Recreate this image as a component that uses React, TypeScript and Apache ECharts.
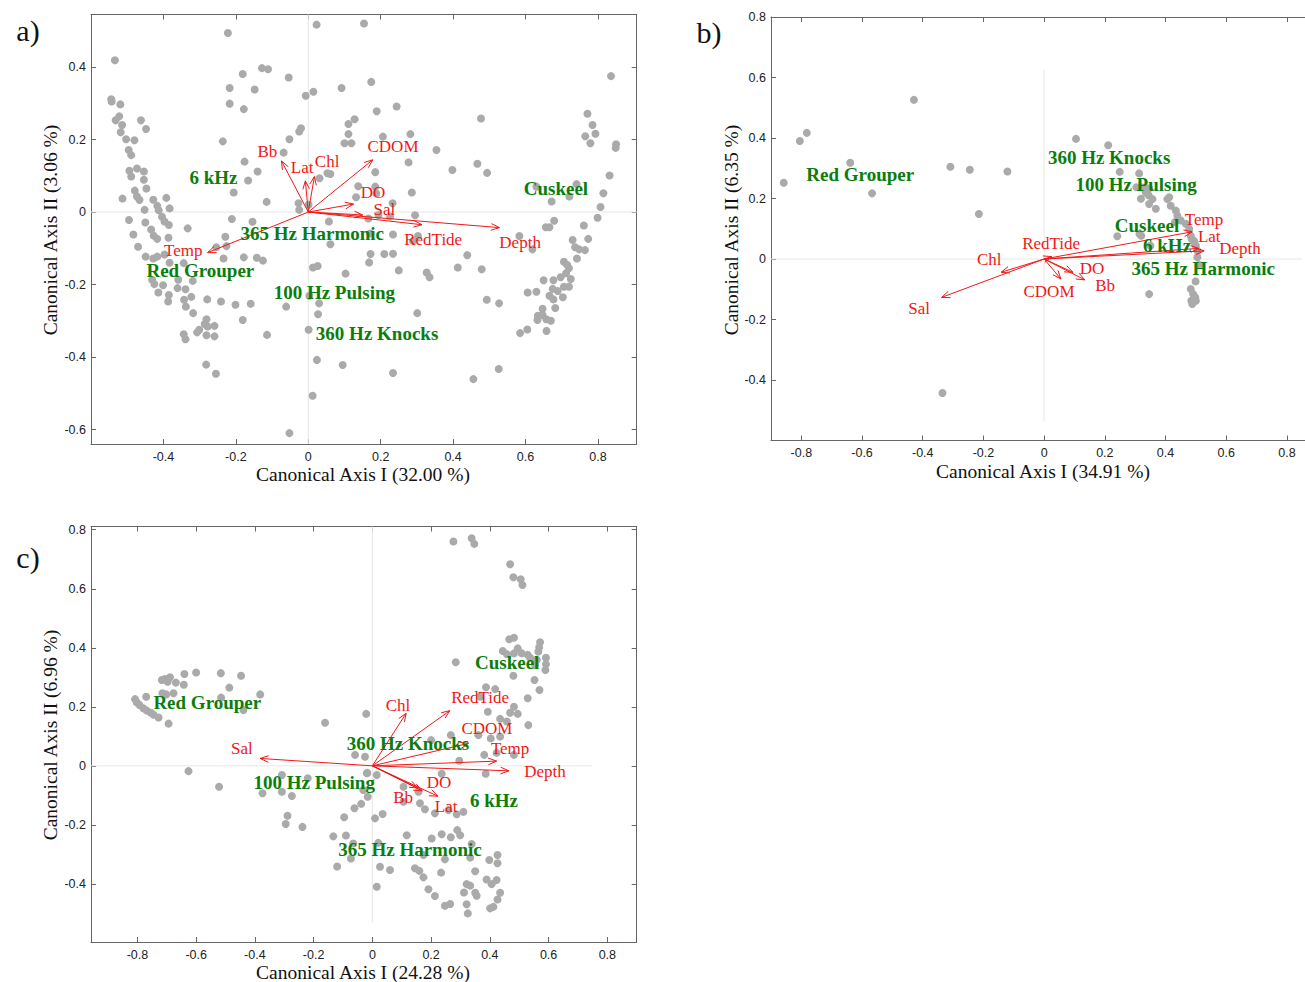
import React, { useEffect, useRef } from "react";
import * as echarts from "echarts";

// ---------------- DATA ----------------
// Panel a) sample scores
const sitesA: number[][] = [
  [-0.534,0.419],[-0.222,0.494],[0.023,0.517],[0.154,0.52],[-0.128,0.397],[-0.111,0.394],[-0.181,0.381],[-0.054,0.371],[-0.217,0.342],[-0.148,0.338],[-0.217,0.299],[-0.178,0.284],[-0.007,0.321],[0.014,0.332],[0.092,0.342],[-0.544,0.311],[-0.543,0.305],[-0.519,0.297],[-0.522,0.264],[-0.532,0.253],[-0.514,0.24],[-0.462,0.253],[-0.448,0.229],[-0.518,0.22],[-0.503,0.201],[-0.48,0.198],[-0.496,0.171],[-0.489,0.157],[-0.494,0.114],[-0.489,0.098],[-0.473,0.12],[-0.454,0.112],[-0.454,0.089],[-0.479,0.059],[-0.473,0.043],[-0.466,0.033],[-0.447,0.065],[-0.513,0.037],[-0.428,0.034],[-0.417,0.017],[-0.413,0.005],[-0.392,0.039],[-0.383,0.01],[-0.452,0.006],[-0.495,-0.022],[-0.45,-0.029],[-0.404,-0.013],[-0.397,-0.026],[-0.385,-0.036],[-0.236,0.195],[-0.176,0.139],[-0.14,0.112],[-0.166,0.087],[-0.206,0.054],[-0.115,0.028],[-0.211,-0.019],[-0.154,-0.027],[-0.068,0.164],[-0.052,0.201],[-0.025,0.222],[-0.02,0.231],[-0.027,0.024],[-0.025,0.006],[0.001,0.02],[0.031,0.093],[0.053,0.107],[0.061,0.105],[0.111,0.243],[0.128,0.256],[0.111,0.215],[0.1,0.19],[0.119,0.19],[0.138,0.071],[0.132,0.041],[0.057,-0.026],
  [0.174,0.359],[0.189,0.278],[0.244,0.291],[0.206,0.208],[0.282,0.215],[0.354,0.171],[0.277,0.137],[0.185,0.11],[0.398,0.116],[0.467,0.133],[0.494,0.108],[0.477,0.258],[0.286,0.054],[0.185,0.07],[0.188,0.051],[0.233,0.024],[0.194,-0.008],[0.226,-0.012],[0.166,-0.018],[0.295,-0.009],[0.836,0.375],[0.771,0.271],[0.785,0.24],[0.793,0.216],[0.765,0.209],[0.779,0.19],[0.85,0.187],[0.849,0.177],[0.832,0.101],[0.815,0.052],[0.807,0.014],[0.799,-0.016],[0.761,-0.037],[0.741,0.077],[0.721,0.043],[0.672,0.029],[0.679,-0.024],[0.656,-0.042],[0.666,-0.042],[0.63,0.07],
  [-0.333,-0.045],[-0.483,-0.062],[-0.434,-0.048],[-0.427,-0.065],[-0.417,-0.074],[-0.386,-0.071],[-0.47,-0.096],[-0.449,-0.123],[-0.428,-0.128],[-0.417,-0.123],[-0.397,-0.117],[-0.383,-0.14],[-0.344,-0.141],[-0.254,-0.097],[-0.229,-0.068],[-0.226,-0.094],[-0.234,-0.128],[-0.178,-0.125],[-0.142,-0.126],[-0.125,-0.134],[-0.431,-0.187],[-0.425,-0.199],[-0.401,-0.202],[-0.414,-0.222],[-0.385,-0.229],[-0.387,-0.247],[-0.359,-0.187],[-0.361,-0.21],[-0.339,-0.213],[-0.319,-0.19],[-0.343,-0.242],[-0.338,-0.261],[-0.323,-0.234],[-0.318,-0.279],[-0.279,-0.241],[-0.241,-0.247],[-0.201,-0.256],[-0.159,-0.253],[-0.281,-0.296],[-0.286,-0.309],[-0.278,-0.316],[-0.259,-0.314],[-0.301,-0.325],[-0.307,-0.332],[-0.344,-0.337],[-0.339,-0.351],[-0.281,-0.34],[-0.259,-0.343],[-0.181,-0.298],[-0.114,-0.339],[-0.061,-0.261],[-0.282,-0.421],[-0.255,-0.446],[-0.052,-0.61],[0.013,-0.153],[0.026,-0.149],[0.061,-0.089],[0.103,-0.17],[0.003,-0.231],[0.03,-0.252],[0.027,-0.282],[0.001,-0.325],[0.024,-0.408],[0.095,-0.422],[0.012,-0.507],
  [0.234,-0.062],[0.171,-0.059],[0.172,-0.116],[0.168,-0.139],[0.21,-0.116],[0.234,-0.115],[0.25,-0.161],[0.303,-0.066],[0.289,-0.08],[0.327,-0.167],[0.335,-0.18],[0.413,-0.153],[0.439,-0.119],[0.479,-0.158],[0.583,-0.066],[0.619,-0.103],[0.301,-0.279],[0.493,-0.242],[0.527,-0.252],[0.606,-0.222],[0.63,-0.22],[0.65,-0.188],[0.585,-0.334],[0.605,-0.324],[0.634,-0.286],[0.647,-0.284],[0.633,-0.298],[0.657,-0.296],[0.67,-0.3],[0.647,-0.267],[0.658,-0.328],[0.682,-0.265],[0.666,-0.231],[0.677,-0.241],[0.675,-0.212],[0.689,-0.218],[0.703,-0.235],[0.706,-0.206],[0.72,-0.206],[0.677,-0.188],[0.697,-0.18],[0.725,-0.185],[0.712,-0.169],[0.72,-0.155],[0.715,-0.146],[0.706,-0.137],[0.742,-0.128],[0.73,-0.077],[0.737,-0.097],[0.748,-0.103],[0.764,-0.105],[0.773,-0.074],[0.234,-0.444],[0.456,-0.461],[0.526,-0.433]
];
// Panel b) sample scores
const sitesB: number[][] = [
  [-0.429,0.526],[-0.782,0.417],[-0.805,0.39],[-0.639,0.318],[-0.858,0.252],[-0.567,0.217],[-0.309,0.305],[-0.245,0.295],[-0.121,0.289],[-0.215,0.149],[0.105,0.397],[0.211,0.376],[0.249,0.288],[0.313,0.283],[0.304,0.237],[0.324,0.236],[0.344,0.211],[0.319,0.199],[0.335,0.22],[0.346,0.234],[0.357,0.198],[0.346,0.182],[0.406,0.198],[0.417,0.176],[0.412,0.204],[0.368,0.166],[0.434,0.16],[0.439,0.143],[0.45,0.127],[0.467,0.116],[0.431,0.122],[0.478,0.099],[0.483,0.077],[0.494,0.06],[0.5,0.044],[0.505,0.027],[0.505,0.006],[0.511,-0.02],[0.499,-0.074],[0.483,-0.099],[0.491,-0.116],[0.498,-0.127],[0.5,-0.138],[0.488,-0.149],[0.485,-0.138],[0.346,-0.116],[0.241,0.075],[0.314,0.083],[0.32,0.077],[0.35,0.044],[0.486,0.066],[0.494,0.055],[-0.335,-0.443]
];
// Panel c) sample scores
const sitesC: number[][] = [
  [-0.717,0.291],[-0.706,0.294],[-0.689,0.3],[-0.697,0.285],[-0.64,0.311],[-0.6,0.316],[-0.516,0.314],[-0.447,0.305],[-0.669,0.282],[-0.642,0.275],[-0.487,0.265],[-0.715,0.246],[-0.702,0.242],[-0.677,0.246],[-0.77,0.234],[-0.382,0.242],[-0.515,0.231],[-0.808,0.226],[-0.802,0.215],[-0.793,0.206],[-0.78,0.195],[-0.768,0.187],[-0.754,0.18],[-0.745,0.173],[-0.728,0.164],[-0.694,0.143],[-0.439,0.189],[-0.161,0.146],[-0.021,0.176],
  [0.276,0.76],[0.338,0.771],[0.347,0.752],[0.469,0.683],[0.48,0.639],[0.505,0.632],[0.511,0.613],[0.466,0.429],[0.482,0.434],[0.571,0.419],[0.568,0.402],[0.565,0.387],[0.444,0.389],[0.458,0.378],[0.495,0.398],[0.482,0.381],[0.509,0.381],[0.529,0.376],[0.537,0.366],[0.591,0.366],[0.591,0.344],[0.589,0.325],[0.554,0.342],[0.56,0.359],[0.48,0.305],[0.552,0.291],[0.569,0.257],[0.284,0.351],[0.529,0.229],[0.387,0.266],[0.418,0.26],[0.367,0.234],[0.482,0.2],[0.469,0.18],[0.495,0.176],[0.393,0.183],[0.435,0.159],[0.458,0.15],[0.531,0.138],[0.267,0.104],[0.361,0.104],[0.403,0.093],[0.435,0.099],[0.2,0.087],
  [-0.626,-0.018],[-0.522,-0.071],[-0.374,-0.093],[-0.308,-0.031],[-0.308,-0.088],[-0.274,-0.102],[-0.22,-0.042],[-0.289,-0.169],[-0.295,-0.197],[-0.238,-0.207],[-0.059,0.037],[-0.025,0.031],[-0.017,-0.024],[-0.031,-0.082],[-0.016,-0.105],[-0.038,-0.129],[-0.061,-0.144],[-0.096,-0.174],[-0.133,-0.239],[-0.09,-0.236],[-0.065,-0.263],[-0.073,-0.314],[-0.12,-0.341],
  [0.381,0.037],[0.423,0.044],[0.482,0.037],[0.296,0.017],[0.386,-0.027],[0.236,-0.027],[-0.019,-0.025],[0.015,-0.031],[0.106,-0.071],[0.157,-0.088],[0.106,-0.122],[0.162,-0.127],[0.179,-0.147],[0.213,-0.161],[0.259,-0.15],[0.287,-0.164],[0.31,-0.156],[0.009,-0.178],[0.035,-0.163],[0.117,-0.235],[0.202,-0.246],[0.236,-0.232],[0.267,-0.242],[0.289,-0.218],[0.299,-0.235],[0.174,-0.302],[0.247,-0.317],[0.338,-0.265],[0.333,-0.311],[0.398,-0.319],[0.426,-0.302],[0.426,-0.33],[0.02,-0.261],[0.026,-0.342],[0.06,-0.353],[0.145,-0.347],[0.16,-0.356],[0.174,-0.378],[0.234,-0.362],[0.35,-0.357],[0.321,-0.401],[0.333,-0.406],[0.389,-0.385],[0.406,-0.401],[0.423,-0.387],[0.015,-0.41],[0.191,-0.418],[0.213,-0.441],[0.312,-0.429],[0.35,-0.43],[0.355,-0.44],[0.435,-0.43],[0.426,-0.453],[0.247,-0.474],[0.265,-0.468],[0.321,-0.469],[0.412,-0.478],[0.401,-0.483],[0.325,-0.5]
];

// Environmental variables: names, arrow tips, label anchors
const envNamesA = ["Bb", "Lat", "Chl", "CDOM", "DO", "Sal", "RedTide", "Depth", "Temp"];
const envTipsA = [[-0.074,0.141],[-0.008,0.086],[0.017,0.098],[0.178,0.144],[0.125,0.022],[0.15,-0.008],[0.314,-0.035],[0.528,-0.043],[-0.278,-0.112]];
const envLabA = [[-0.113,0.168],[-0.017,0.124],[0.052,0.14],[0.234,0.182],[0.179,0.055],[0.21,0.008],[0.345,-0.077],[0.585,-0.085],[-0.345,-0.105]];

const envNamesB = ["Temp", "Lat", "Depth", "RedTide", "Chl", "Sal", "CDOM", "DO", "Bb"];
const envTipsB = [[0.488,0.09],[0.51,0.035],[0.527,0.027],[0.025,0.008],[-0.142,-0.044],[-0.338,-0.127],[0.055,-0.066],[0.095,-0.044],[0.134,-0.069]];
const envLabB = [[0.527,0.132],[0.544,0.076],[0.645,0.036],[0.023,0.05],[-0.181,0.0],[-0.412,-0.162],[0.016,-0.109],[0.158,-0.033],[0.201,-0.086]];

const envNamesC = ["Sal", "Chl", "RedTide", "CDOM", "Temp", "Depth", "DO", "Bb", "Lat"];
const envTipsC = [[-0.382,0.025],[0.115,0.178],[0.264,0.187],[0.327,0.076],[0.423,0.016],[0.465,-0.017],[0.17,-0.085],[0.155,-0.075],[0.223,-0.103]];
const envLabC = [[-0.444,0.06],[0.087,0.203],[0.367,0.233],[0.39,0.128],[0.469,0.06],[0.588,-0.018],[0.227,-0.058],[0.105,-0.106],[0.251,-0.137]];

// Sound types (species/centroids)
const soundNamesA = ["6 kHz", "365 Hz Harmonic", "Red Grouper", "100 Hz Pulsing", "360 Hz Knocks", "Cuskeel"];
const soundPosA = [[-0.262,0.096],[0.011,-0.058],[-0.298,-0.16],[0.072,-0.223],[0.19,-0.336],[0.684,0.066]];
const soundNamesB = ["Red Grouper", "360 Hz Knocks", "100 Hz Pulsing", "Cuskeel", "6 kHz", "365 Hz Harmonic"];
const soundPosB = [[-0.606,0.278],[0.214,0.337],[0.303,0.245],[0.339,0.112],[0.405,0.046],[0.524,-0.03]];
const soundNamesC = ["Red Grouper", "Cuskeel", "360 Hz Knocks", "100 Hz Pulsing", "6 kHz", "365 Hz Harmonic"];
const soundPosC = [[-0.562,0.216],[0.459,0.349],[0.121,0.077],[-0.198,-0.058],[0.414,-0.119],[0.128,-0.285]];

// Tick labels
const xTicksA = [-0.4, -0.2, 0, 0.2, 0.4, 0.6, 0.8];
const yTicksA = [-0.6, -0.4, -0.2, 0, 0.2, 0.4];
const xTicksB = [-0.8, -0.6, -0.4, -0.2, 0, 0.2, 0.4, 0.6, 0.8];
const yTicksB = [-0.4, -0.2, 0, 0.2, 0.4, 0.6, 0.8];
const xTicksC = [-0.8, -0.6, -0.4, -0.2, 0, 0.2, 0.4, 0.6, 0.8];
const yTicksC = [-0.4, -0.2, 0, 0.2, 0.4, 0.6, 0.8];

const axisTitlesX = ["Canonical Axis I (32.00 %)", "Canonical Axis I (34.91 %)", "Canonical Axis I (24.28 %)"];
const axisTitlesY = ["Canonical Axis II (3.06 %)", "Canonical Axis II (6.35 %)", "Canonical Axis II (6.96 %)"];
const panelLetters = ["a)", "b)", "c)"];

// ---------------- LAYOUT / STYLE ----------------
const SERIF = "'Liberation Serif', 'Times New Roman', serif";
const SANS = "'Liberation Sans', Arial, sans-serif";
const RED = "#f01818";
const GREEN = "#0b7d0b";
const DOT = "#aaaaaa";
const AXIS = "#666666";
const ZERO = "#e6e6e6";

const panels = [
  { grid: { left: 91, top: 14.5, width: 545.7, height: 429.5 }, xr: [-0.6, 0.907], yr: [-0.64, 0.545],
    zeroH: [-0.6, 0.907], zeroV: [-0.64, 0.545], rightAxis: true,
    xTitle: [363, 474], yTitle: [50, 230], letter: [28, 30] },
  { grid: { left: 771, top: 17, width: 534, height: 423.5 }, xr: [-0.9, 0.8595], yr: [-0.6, 0.8],
    zeroH: [-0.9, 0.85], zeroV: [-0.535, 0.625], rightAxis: false,
    xTitle: [1043, 471], yTitle: [731, 230], letter: [709, 32] },
  { grid: { left: 91, top: 526.5, width: 545.7, height: 415.5 }, xr: [-0.958, 0.9], yr: [-0.597, 0.811],
    zeroH: [-0.958, 0.748], zeroV: [-0.53, 0.811], rightAxis: true,
    xTitle: [363, 972], yTitle: [50, 735], letter: [28, 557] },
];

const fmt = (v: number) => (Math.abs(v) < 1e-9 ? "0" : v.toFixed(1));

function makeAxes(gi: number, xr: number[], yr: number[], xt: number[], yt: number[], rightAxis: boolean) {
  const line = { show: true, onZero: false, lineStyle: { color: AXIS, width: 1 } };
  const tick = (vals: number[]) => ({ show: true, inside: true, length: 5, customValues: vals, lineStyle: { color: AXIS, width: 1 } });
  const xs = [
    { gridIndex: gi, type: "value", position: "bottom", min: xr[0], max: xr[1], axisLine: line, axisTick: tick(xt),
      axisLabel: { show: true, customValues: xt, formatter: fmt, color: "#222", fontSize: 12.5, fontFamily: SANS, margin: 6 },
      splitLine: { show: false } },
    { gridIndex: gi, type: "value", position: "top", min: xr[0], max: xr[1], axisLine: line, axisTick: tick(xt),
      axisLabel: { show: false }, splitLine: { show: false } },
  ];
  const ys = [
    { gridIndex: gi, type: "value", position: "left", min: yr[0], max: yr[1], axisLine: line, axisTick: tick(yt),
      axisLabel: { show: true, customValues: yt, formatter: fmt, color: "#222", fontSize: 12.5, fontFamily: SANS, margin: 5 },
      splitLine: { show: false } },
    { gridIndex: gi, type: "value", position: "right", min: yr[0], max: yr[1],
      axisLine: { ...line, show: rightAxis }, axisTick: { ...tick(yt), show: rightAxis },
      axisLabel: { show: false }, splitLine: { show: false } },
  ];
  return { xs, ys };
}

function arrowSeries(gi: number, tips: number[][]) {
  return {
    type: "custom", coordinateSystem: "cartesian2d", xAxisIndex: gi * 2, yAxisIndex: gi * 2, clip: false, silent: true, z: 5,
    data: tips,
    renderItem: (params: any, api: any) => {
      const o = api.coord([0, 0]);
      const p = api.coord([api.value(0), api.value(1)]);
      const ang = Math.atan2(p[1] - o[1], p[0] - o[0]);
      const L = 9, a = 0.38;
      const h1 = [p[0] - L * Math.cos(ang - a), p[1] - L * Math.sin(ang - a)];
      const h2 = [p[0] - L * Math.cos(ang + a), p[1] - L * Math.sin(ang + a)];
      return {
        type: "group",
        children: [
          { type: "line", shape: { x1: o[0], y1: o[1], x2: p[0], y2: p[1] }, style: { stroke: RED, lineWidth: 1 } },
          { type: "polyline", shape: { points: [h1, p, h2] }, style: { stroke: RED, fill: "none", lineWidth: 1 } },
        ],
      };
    },
  };
}

function textSeries(gi: number, pos: number[][], names: string[], color: string, font: string, z: number) {
  return {
    type: "custom", coordinateSystem: "cartesian2d", xAxisIndex: gi * 2, yAxisIndex: gi * 2, clip: false, silent: true, z,
    data: pos,
    renderItem: (params: any, api: any) => {
      const p = api.coord([api.value(0), api.value(1)]);
      return {
        type: "text", x: p[0], y: p[1],
        style: { text: names[params.dataIndex], fill: color, font, align: "center", verticalAlign: "middle" },
      };
    },
  };
}

export default function App() {
  const ref = useRef<HTMLDivElement>(null);
  useEffect(() => {
    if (!ref.current) return;
    const chart = echarts.init(ref.current, null, { renderer: "svg" });
    const sites = [sitesA, sitesB, sitesC];
    const tips = [envTipsA, envTipsB, envTipsC];
    const labs = [envLabA, envLabB, envLabC];
    const envNames = [envNamesA, envNamesB, envNamesC];
    const sPos = [soundPosA, soundPosB, soundPosC];
    const sNames = [soundNamesA, soundNamesB, soundNamesC];
    const xt = [xTicksA, xTicksB, xTicksC];
    const yt = [yTicksA, yTicksB, yTicksC];

    const xAxis: any[] = [];
    const yAxis: any[] = [];
    const series: any[] = [];
    const graphic: any[] = [];
    panels.forEach((pn, gi) => {
      const { xs, ys } = makeAxes(gi, pn.xr, pn.yr, xt[gi], yt[gi], pn.rightAxis);
      xAxis.push(...xs);
      yAxis.push(...ys);
      const ax = { xAxisIndex: gi * 2, yAxisIndex: gi * 2 };
      series.push({ type: "line", ...ax, data: [[pn.zeroH[0], 0], [pn.zeroH[1], 0]], showSymbol: false, silent: true, z: 1,
        lineStyle: { color: ZERO, width: 1 } });
      series.push({ type: "line", ...ax, data: [[0, pn.zeroV[0]], [0, pn.zeroV[1]]], showSymbol: false, silent: true, z: 1,
        lineStyle: { color: ZERO, width: 1 } });
      series.push({ type: "scatter", ...ax, data: sites[gi], symbolSize: 8, silent: true, z: 2,
        itemStyle: { color: DOT, opacity: 1 } });
      series.push(arrowSeries(gi, tips[gi]));
      series.push(textSeries(gi, labs[gi], envNames[gi], RED, `17px ${SERIF}`, 6));
      series.push(textSeries(gi, sPos[gi], sNames[gi], GREEN, `bold 19px ${SERIF}`, 7));

      graphic.push({ type: "text", x: pn.xTitle[0], y: pn.xTitle[1],
        style: { text: axisTitlesX[gi], fill: "#111", font: `19.5px ${SERIF}`, align: "center", verticalAlign: "middle" } });
      graphic.push({ type: "text", x: pn.yTitle[0], y: pn.yTitle[1], rotation: Math.PI / 2,
        style: { text: axisTitlesY[gi], fill: "#111", font: `19.5px ${SERIF}`, align: "center", verticalAlign: "middle" } });
      graphic.push({ type: "text", x: pn.letter[0], y: pn.letter[1],
        style: { text: panelLetters[gi], fill: "#111", font: `30px ${SERIF}`, align: "center", verticalAlign: "middle" } });
    });

    chart.setOption({
      animation: false,
      backgroundColor: "#ffffff",
      grid: panels.map((p) => ({ ...p.grid, containLabel: false })),
      xAxis,
      yAxis,
      series,
      graphic,
    });
    return () => chart.dispose();
  }, []);
  return <div ref={ref} style={{ position: "fixed", left: 0, top: 0, width: 1305, height: 982 }} />;
}
